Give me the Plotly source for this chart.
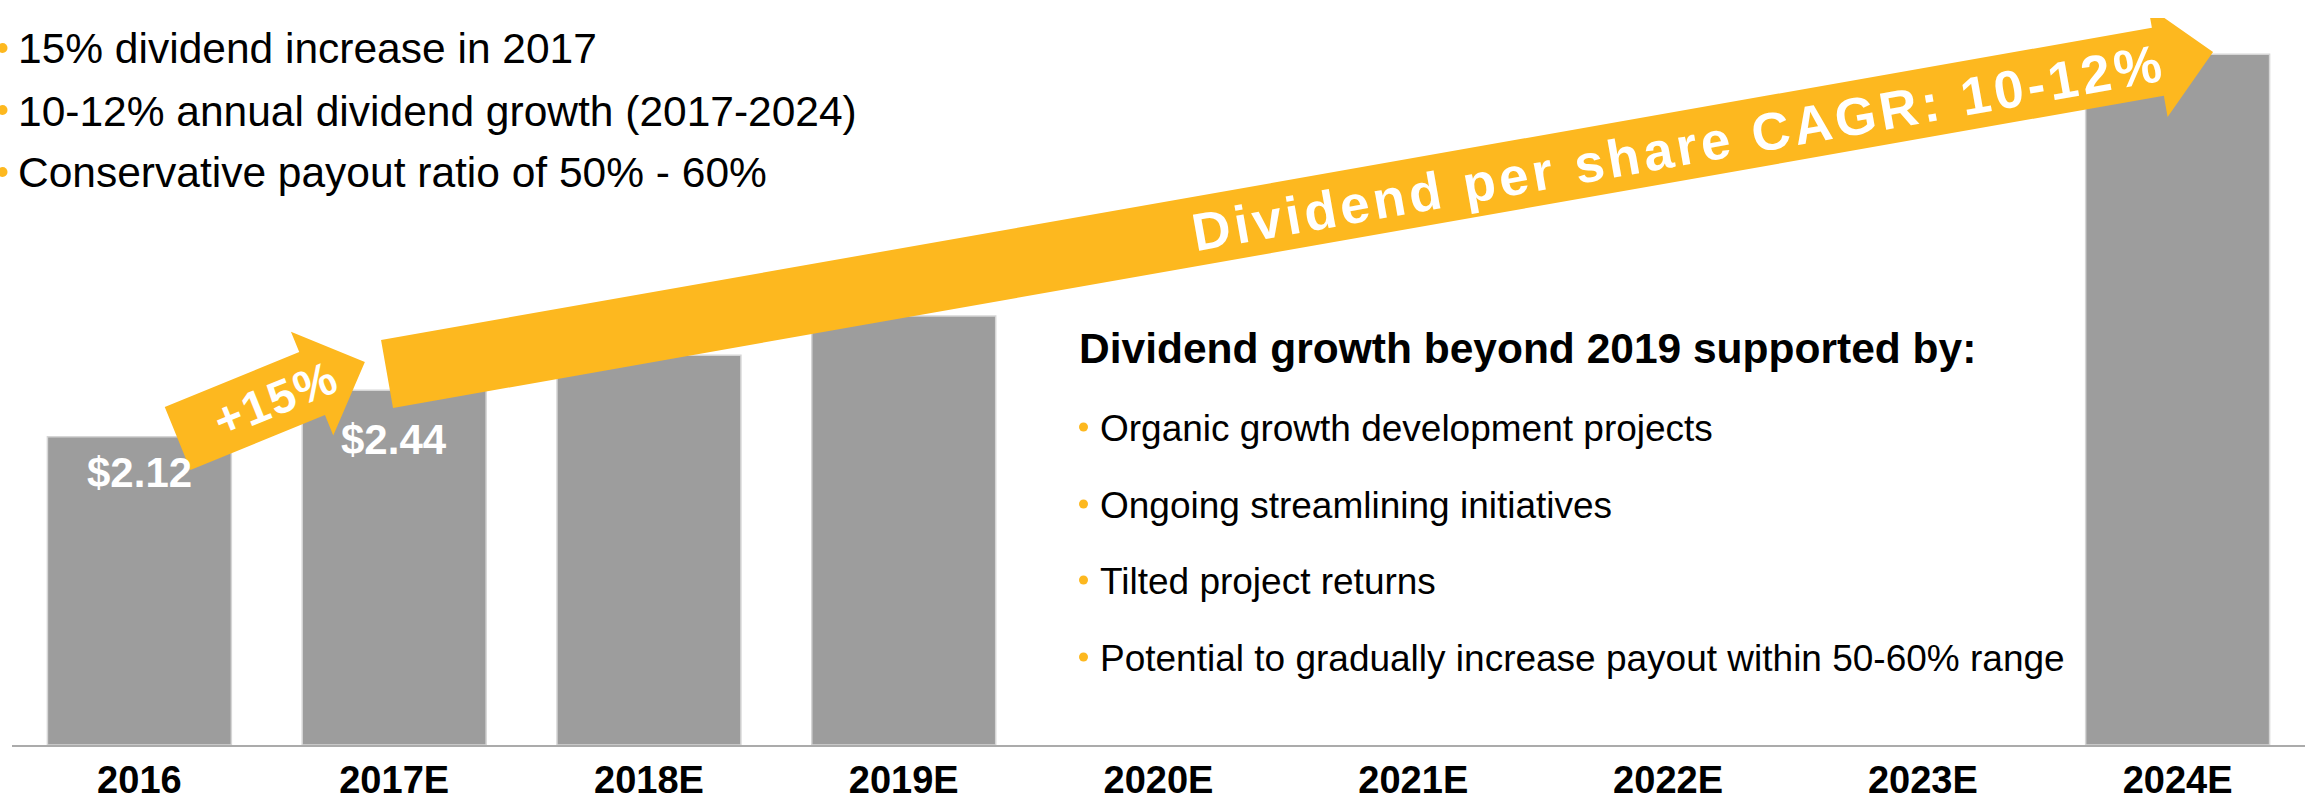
import math
import plotly.graph_objects as go

# ---------------- data ----------------
categories = ["2016", "2017E", "2018E", "2019E", "2020E", "2021E", "2022E", "2023E", "2024E"]
dividend_per_share = [2.12, 2.44, 2.68, 2.95, None, None, None, None, 4.75]
labeled_bars = [0, 1]

left_points = [
    "15% dividend increase in 2017",
    "10-12% annual dividend growth (2017-2024)",
    "Conservative payout ratio of 50% - 60%",
]
support_title = "Dividend growth beyond 2019 supported by:"
support_points = [
    "Organic growth development projects",
    "Ongoing streamlining initiatives",
    "Tilted project returns",
    "Potential to gradually increase payout within 50-60% range",
]
step_text = "+15%"
cagr_text = "Dividend per share CAGR: 10-12%"

# ---------------- style / layout ----------------
W, H = 2305, 802
ML, MR, MT, MB = 12, 0, 18, 57
X_RANGE = [-0.5, 8.5]
Y_RANGE = [0, 5]
FONT = "Arial, 'Liberation Sans', Helvetica, sans-serif"
ORANGE = "#FDB81F"
GREY = "#9D9D9D"

PW = W - ML - MR
PH = H - MT - MB


def d2px(x, y):
    px = ML + (x - X_RANGE[0]) / (X_RANGE[1] - X_RANGE[0]) * PW
    py = MT + (Y_RANGE[1] - y) / (Y_RANGE[1] - Y_RANGE[0]) * PH
    return px, py


def px2d(px, py):
    x = X_RANGE[0] + (px - ML) / PW * (X_RANGE[1] - X_RANGE[0])
    y = Y_RANGE[1] - (py - MT) / PH * (Y_RANGE[1] - Y_RANGE[0])
    return x, y


def px2paper(px, py):
    return (px - ML) / PW, (H - MB - py) / PH


def arrow_path(tail, tip, shaft_w, head_w, head_len):
    tx, ty = d2px(*tail)
    hx, hy = d2px(*tip)
    L = math.hypot(hx - tx, hy - ty)
    ux, uy = (hx - tx) / L, (hy - ty) / L
    nx, ny = -uy, ux
    bx, by = hx - ux * head_len, hy - uy * head_len
    pts = [
        (tx + nx * shaft_w / 2, ty + ny * shaft_w / 2),
        (bx + nx * shaft_w / 2, by + ny * shaft_w / 2),
        (bx + nx * head_w / 2, by + ny * head_w / 2),
        (hx, hy),
        (bx - nx * head_w / 2, by - ny * head_w / 2),
        (bx - nx * shaft_w / 2, by - ny * shaft_w / 2),
        (tx - nx * shaft_w / 2, ty - ny * shaft_w / 2),
    ]
    d = []
    for i, (px, py) in enumerate(pts):
        x, y = px2d(px, py)
        d.append(("M" if i == 0 else "L") + f"{x:.5f},{y:.5f}")
    return " ".join(d) + " Z"


def bullet_dot(cx, cy, r):
    x0, y0 = px2paper(cx - r, cy + r)
    x1, y1 = px2paper(cx + r, cy - r)
    return dict(type="circle", xref="paper", yref="paper",
                x0=x0, x1=x1, y0=y0, y1=y1,
                fillcolor=ORANGE, line=dict(width=0), layer="above")


xs = list(range(len(categories)))

fig = go.Figure()
fig.add_trace(go.Bar(
    x=xs, y=dividend_per_share,
    marker=dict(color=GREY, line=dict(color="#D6D6D6", width=1.5)),
    hoverinfo="skip",
))

# arrows (decorations, anchored in data space)
small_arrow = dict(tail=(0.150, 2.108), tip=(0.885, 2.634))
big_arrow = dict(tail=(0.972, 2.552), tip=(8.139, 4.766))
shapes = [
    dict(type="path", xref="x", yref="y",
         path=arrow_path(small_arrow["tail"], small_arrow["tip"], 68, 112, 57),
         fillcolor=ORANGE, line=dict(width=0), layer="above"),
    dict(type="path", xref="x", yref="y",
         path=arrow_path(big_arrow["tail"], big_arrow["tip"], 69, 112, 56),
         fillcolor=ORANGE, line=dict(width=0), layer="above"),
]

annotations = []
# value labels inside bars
label_shift = [-36, -49]
for k, i in enumerate(labeled_bars):
    annotations.append(dict(
        x=xs[i], y=dividend_per_share[i], xref="x", yref="y",
        text=f"${dividend_per_share[i]:.2f}", showarrow=False,
        xanchor="center", yanchor="middle", yshift=label_shift[k],
        font=dict(family=FONT, size=42, color="white", weight="bold"),
    ))

# arrow texts
sx, sy = px2d(276, 398)
annotations.append(dict(
    x=sx, y=sy, xref="x", yref="y",
    text=f"<span style='letter-spacing:2px'>{step_text}</span>",
    showarrow=False, textangle=-22, xanchor="center", yanchor="middle",
    font=dict(family=FONT, size=47, color="white", weight="bold"),
))
cx, cy = px2d(1678, 147)
annotations.append(dict(
    x=cx, y=cy, xref="x", yref="y",
    text=f"<span style='letter-spacing:4px'>{cagr_text}</span>",
    showarrow=False, textangle=-10, xanchor="center", yanchor="middle",
    font=dict(family=FONT, size=53, color="white", weight="bold"),
))

# top-left bullet list
left_y = [49, 111, 173]
for t, py in zip(left_points, left_y):
    shapes.append(bullet_dot(2.5, py - 1, 5))
    ax, ay = px2paper(16, py)
    annotations.append(dict(
        x=ax, y=ay, xref="paper", yref="paper", text=t,
        showarrow=False, xanchor="left", yanchor="middle",
        font=dict(family=FONT, size=42.5, color="black"),
    ))

# right text block
tx_, ty_ = px2paper(1077, 348)
annotations.append(dict(
    x=tx_, y=ty_, xref="paper", yref="paper", text=f"<b>{support_title}</b>",
    showarrow=False, xanchor="left", yanchor="middle",
    font=dict(family=FONT, size=42.5, color="black"),
))
right_y = [428, 505, 581, 658]
for t, py in zip(support_points, right_y):
    shapes.append(bullet_dot(1083.5, py - 1, 4.5))
    ax, ay = px2paper(1098, py)
    annotations.append(dict(
        x=ax, y=ay, xref="paper", yref="paper", text=t,
        showarrow=False, xanchor="left", yanchor="middle",
        font=dict(family=FONT, size=37, color="black"),
    ))

fig.update_layout(
    width=W, height=H,
    margin=dict(l=ML, r=MR, t=MT, b=MB, pad=0, autoexpand=False),
    paper_bgcolor="white", plot_bgcolor="white",
    bargap=0.278, showlegend=False,
    shapes=shapes, annotations=annotations,
    xaxis=dict(
        range=X_RANGE, tickmode="array", tickvals=xs, ticktext=categories,
        showline=True, linecolor="#ABABAB", linewidth=2,
        showgrid=False, zeroline=False, ticks="", ticklabelstandoff=0,
        automargin=False,
        tickfont=dict(family=FONT, size=38, color="black", weight="bold"),
        fixedrange=True,
    ),
    yaxis=dict(
        range=Y_RANGE, showgrid=False, zeroline=False, showticklabels=False,
        showline=False, fixedrange=True, automargin=False,
    ),
)

fig.write_html(
    "out.html",
    config={"displayModeBar": False, "staticPlot": True},
    post_script="document.body.style.margin='0px';document.body.style.overflow='hidden';",
)
